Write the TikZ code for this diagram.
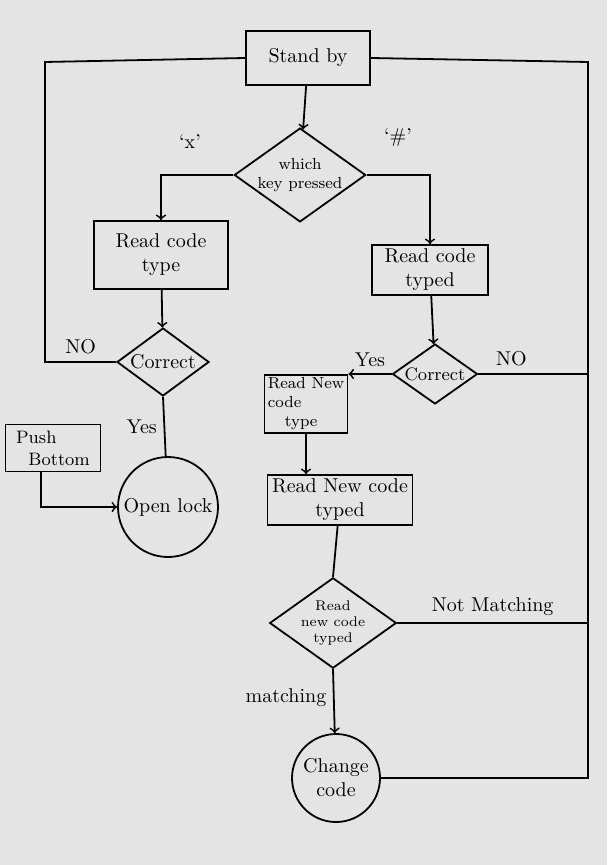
\documentclass[tikz,border=0pt]{standalone}
\usepackage{tikz}
\usetikzlibrary{shapes.geometric}

\definecolor{paper}{RGB}{228,228,228}

\tikzset{
    box/.style={draw, rectangle, inner sep=1pt, align=center},
    choice/.style={draw, diamond, shape aspect=1.4, inner sep=0pt, align=center},
    endpoint/.style={draw, circle, inner sep=1pt, align=center},
}

\begin{document}
\begin{tikzpicture}[x=0.5pt, y=-0.5pt, line width=0.9pt]
    \fill[paper] (0,0) rectangle (607,865);
    \useasboundingbox (0,0) rectangle (607,865);

    \node[box, minimum width=62pt, minimum height=27pt] (stand) at (308,58) {Stand by};
    \node[choice, font=\footnotesize, minimum width=60pt, minimum height=44pt] (key) at (300,175) {which\\key pressed};
    \node at (190,142) {`x'};
    \node at (398,138) {`\#'};

    \node[box, minimum width=67pt, minimum height=34pt] (rc1) at (161,255) {Read code\\type};
    \node[box, minimum width=58pt, minimum height=25pt] (rc2) at (430,270) {Read code\\typed};

    \node[choice, minimum width=46pt, minimum height=34pt] (ok1) at (163,362) {Correct};
    \node[choice, font=\small, minimum width=42.5pt, minimum height=30pt] (ok2) at (435,374) {Correct};

    \node[box, align=left, font=\small, minimum width=47.5pt, minimum height=23.5pt] (push) at (53,448) {Push\\~~Bottom};
    \node[endpoint, minimum size=50pt] (open) at (168,507) {Open lock};

    \node[box, align=left, font=\footnotesize, minimum width=41.5pt, minimum height=29pt] (rn1) at (306,404) {Read New\\code\\~~~type};
    \node[box, minimum width=72.5pt, minimum height=25pt] (rn2) at (340,500) {Read New code\\typed};
    \node[choice, font=\scriptsize, minimum width=61pt, minimum height=41pt] (nm) at (333,623) {Read\\new code\\typed};
    \node[endpoint, minimum size=44pt] (chg) at (336,778) {Change\\code};

    \coordinate (lt) at (45,62);
    \coordinate (rt) at (588,62);

    \draw[->] (stand) -- (key);
    \draw[->] (key.west) -| (rc1.north);
    \draw[->] (key.east) -| (rc2.north);
    \draw[->] (rc1) -- (ok1);
    \draw[->] (rc2) -- (ok2);

    % back to stand by
    \draw (ok1.west) -- node[above] {NO} (ok1.west -| lt) -- (lt) -- (stand.west);
    \draw (chg.east) -| (rt) -- (stand.east);
    \draw (ok2.east) -- node[above, pos=0.3] {NO} (ok2.east -| rt);
    \draw (nm.east) -- node[above] {Not Matching} (nm.east -| rt);

    \draw (ok1.south) -- node[left] {Yes} (open);
    \draw[->] ([xshift=-6pt]push.south) |- (open.west);

    \draw[->] (ok2.west) -- node[above] {Yes} (ok2.west -| rn1.east);
    \draw[->] (rn1.south) -- (rn1.south |- rn2.north);
    \draw (rn2) -- (nm.north);
    \draw[->] (nm.south) -- node[left, pos=0.45] {matching} (chg);
\end{tikzpicture}
\end{document}
